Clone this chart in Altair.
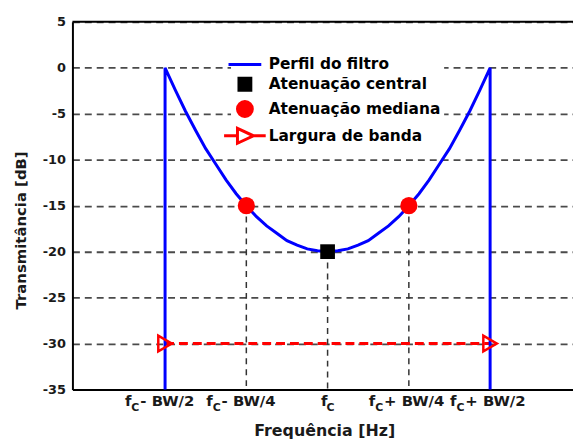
import altair as alt
import pandas as pd

# ---------------- data (x in units of BW/4 around f_C) ----------------
tick_pos = [-2, -1, 0, 1, 2]
tick_rest = ["- BW/2", "- BW/4", "", "+ BW/4", "+ BW/2"]
y_ticks = [5, 0, -5, -10, -15, -20, -25, -30, -35]

prof_x = [-2, -2, -1.875, -1.75, -1.625, -1.5, -1.375, -1.25, -1.125, -1,
          -0.875, -0.75, -0.625, -0.5, -0.375, -0.25, -0.125, 0,
          0.125, 0.25, 0.375, 0.5, 0.625, 0.75, 0.875, 1,
          1.125, 1.25, 1.375, 1.5, 1.625, 1.75, 1.875, 2, 2]
prof_y = [-35, 0, -2.4, -4.7, -6.8, -8.8, -10.5, -12.2, -13.7, -15,
          -16.2, -17.2, -18.0, -18.8, -19.3, -19.7, -19.9, -20,
          -19.9, -19.7, -19.3, -18.8, -18.0, -17.2, -16.2, -15,
          -13.7, -12.2, -10.5, -8.8, -6.8, -4.7, -2.4, 0, -35]

central_x = [0]
central_y = [-20]
median_x = [-1, 1]
median_y = [-15, -15]
band_x = [-2, 2]
band_y = [-30, -30]
floor_y = -35
top_y = 5

series = ["Perfil do filtro", "Atenuação central", "Atenuação mediana", "Largura de banda"]

# ---------------- styling ----------------
FONT = "DejaVu Sans"
W, H = 505, 371
xs = alt.Scale(domain=[-3.14, 3.02], nice=False, zero=False)
ys = alt.Scale(domain=[-35, 5], nice=False, zero=False)

x_axis = alt.Axis(labels=False, ticks=False, grid=False, domainColor="black",
                  domainWidth=2, title="Frequência [Hz]", titleFont=FONT,
                  titleFontSize=16, titleFontWeight="bold", titleColor="#1a1a1a",
                  titleX=254, titleY=46, titleAlign="center", titleBaseline="alphabetic")
y_axis = alt.Axis(values=y_ticks, ticks=False, domainColor="black", domainWidth=2,
                  labelExpr="'' + datum.value",
                  labelFont=FONT, labelFontSize=13, labelFontWeight="bold",
                  labelColor="#1a1a1a", labelPadding=7,
                  grid=True, gridColor="#4a4a4a", gridWidth=1.8, gridDash=[7, 5],
                  title="Transmitância [dB]", titleFont=FONT, titleFontSize=15,
                  titleFontWeight="bold", titleColor="#1a1a1a", titleAngle=270,
                  titleX=-52, titleY=210, titleAlign="center", titleBaseline="middle")


def X(f="x"):
    return alt.X(f"{f}:Q", scale=xs, axis=x_axis)


def Y(f="y"):
    return alt.Y(f"{f}:Q", scale=ys, axis=y_axis)


prof_df = pd.DataFrame({"x": prof_x, "y": prof_y, "i": list(range(len(prof_x)))})
central_df = pd.DataFrame({"x": central_x, "y": central_y})
median_df = pd.DataFrame({"x": median_x, "y": median_y})
band_df = pd.DataFrame({"x": band_x, "y": band_y})
drop_df = pd.DataFrame({"x": median_x + central_x, "y": median_y + central_y,
                        "y2": [floor_y] * 3})
tick_df = pd.DataFrame({"x": tick_pos, "rest": tick_rest,
                        "f": ["f"] * 5, "c": ["C"] * 5, "y": [floor_y] * 5})
side_df = tick_df[tick_df["rest"] != ""]
mid_df = tick_df[tick_df["rest"] == ""]

top_border = alt.Chart(pd.DataFrame({"y": [top_y]})).mark_rule(
    color="black", strokeWidth=2).encode(y=Y())

drops = alt.Chart(drop_df).mark_rule(color="#333333", strokeWidth=1.5,
                                     strokeDash=[6, 5]).encode(x=X(), y=Y(), y2="y2:Q")

band = alt.Chart(band_df).mark_line(color="#ff0000", strokeWidth=3,
                                    strokeDash=[9, 5]).encode(x=X(), y=Y())

profile = alt.Chart(prof_df).mark_line(color="#0000ff", strokeWidth=3).encode(
    x=X(), y=Y(), order="i:Q")

tri = alt.Chart(band_df).mark_point(shape="triangle-right", size=250, color="#ff0000",
                                    strokeWidth=2.5, filled=False, opacity=1).encode(x=X(), y=Y())
circ = alt.Chart(median_df).mark_circle(size=300, color="#ff0000", opacity=1).encode(x=X(), y=Y())
sq = alt.Chart(central_df).mark_square(size=220, color="black", opacity=1).encode(x=X(), y=Y())

# legend (native legend, no drawn data)
shapes = ["M-1.74,0L1.74,0",
          "M-0.63,-0.63L0.63,-0.63L0.63,0.63L-0.63,0.63Z",
          "M-0.79,0A0.79,0.79,0,1,0,0.79,0A0.79,0.79,0,1,0,-0.79,0Z",
          "M-2.21,0L-0.79,0M0.9,0L2.21,0M-0.79,-0.79L0.9,0L-0.79,0.79Z"]
fills = ["transparent", "black", "#ff0000", "white"]
strokes = ["#0000ff", "black", "#ff0000", "#ff0000"]
leg = alt.Legend(orient="none", legendX=160, legendY=29, title=None, fillColor="white",
                 padding=3, labelFont=FONT, labelFontSize=15.5, labelFontWeight="bold",
                 labelColor="black", labelOffset=13, rowPadding=-1, symbolStrokeWidth=3,
                 symbolSize=361, symbolOpacity=1, labelLimit=0)
legend_layer = alt.Chart(pd.DataFrame({"serie": series})).transform_filter("false").mark_point(
    filled=True, size=361, strokeWidth=3).encode(
    shape=alt.Shape("serie:N", scale=alt.Scale(domain=series, range=shapes), legend=leg),
    fill=alt.Fill("serie:N", scale=alt.Scale(domain=series, range=fills), legend=leg),
    stroke=alt.Stroke("serie:N", scale=alt.Scale(domain=series, range=strokes), legend=leg),
)

# x tick labels: f with subscript C
lab_style = dict(font=FONT, fontWeight="bold", color="#1a1a1a", baseline="alphabetic")
f_side = alt.Chart(side_df).mark_text(align="right", dx=-34, dy=17, fontSize=15,
                                      **lab_style).encode(x=X(), y=Y(), text="f:N")
c_side = alt.Chart(side_df).mark_text(align="left", dx=-34, dy=22, fontSize=11,
                                      **lab_style).encode(x=X(), y=Y(), text="c:N")
r_side = alt.Chart(side_df).mark_text(align="left", dx=-25, dy=17, fontSize=15,
                                      **lab_style).encode(x=X(), y=Y(), text="rest:N")
f_mid = alt.Chart(mid_df).mark_text(align="right", dx=0, dy=17, fontSize=15,
                                    **lab_style).encode(x=X(), y=Y(), text="f:N")
c_mid = alt.Chart(mid_df).mark_text(align="left", dx=-1, dy=22, fontSize=11,
                                    **lab_style).encode(x=X(), y=Y(), text="c:N")

chart = alt.layer(
    drops, band, profile, tri, circ, sq, top_border, legend_layer,
    f_side, c_side, r_side, f_mid, c_mid
).properties(
    width=W, height=H,
    autosize=alt.AutoSizeParams(type="none"),
    padding={"left": 65, "top": 12, "right": 0, "bottom": 51},
    background="white",
).configure_view(stroke=None)

chart.save("out.html", embed_options={"renderer": "svg", "actions": False})
